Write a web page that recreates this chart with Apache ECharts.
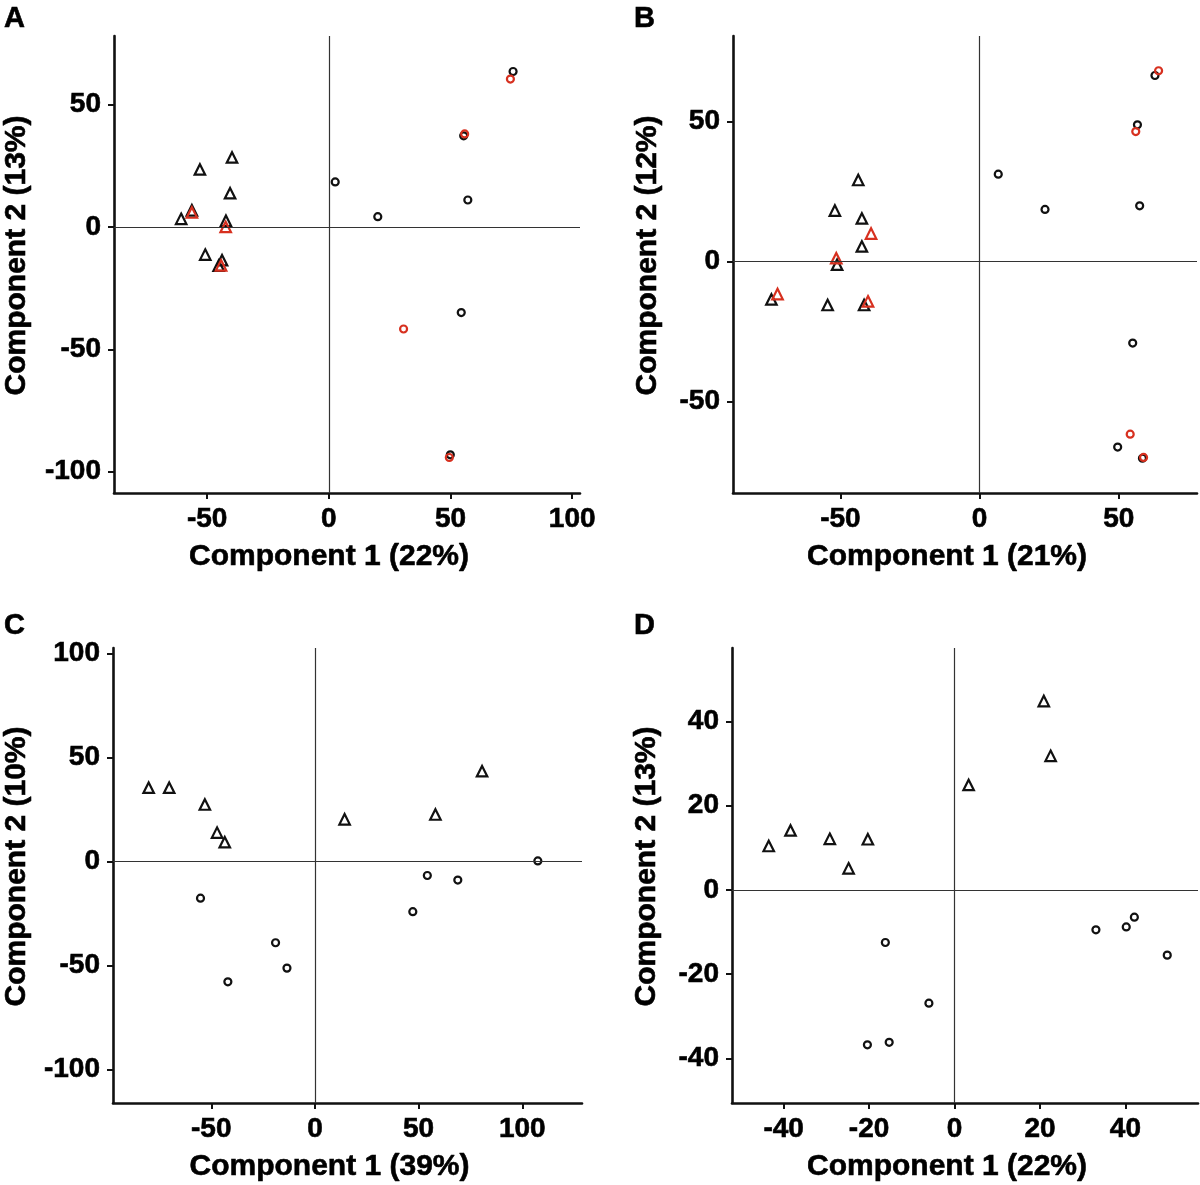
<!DOCTYPE html>
<html>
<head>
<meta charset="utf-8">
<script src="https://cdn.jsdelivr.net/npm/echarts@6/dist/echarts.min.js"></script>
<style>
html,body{margin:0;padding:0;background:#fff;}
#chart{width:1200px;height:1185px;}
</style>
</head>
<body>
<div id="chart"></div>
<script>
// ---------- Panel A ----------
const aBlackTri = [[-39.8,28.4],[-53.0,23.5],[-40.6,13.8],[-56.3,6.8],[-60.7,3.3],[-42.3,2.5],[-50.8,-11.3],[-43.9,-13.6],[-45.3,-15.8]];
const aRedTri = [[-56.3,5.9],[-42.4,0.0],[-44.3,-15.7]];
const aBlackCirc = [[75.7,63.5],[55.4,37.2],[2.6,18.4],[57.1,11.0],[20.1,4.2],[54.4,-35.0],[49.9,-93.1]];
const aRedCirc = [[74.6,60.4],[55.8,38.0],[30.7,-41.7],[49.5,-94.2]];
const aXTicks = [-50, 0, 50, 100];
const aYTicks = [-100, -50, 0, 50];
// ---------- Panel B ----------
const bBlackTri = [[-43.6,29.1],[-52.0,18.2],[-42.3,15.4],[-42.3,5.4],[-51.2,-1.1],[-74.8,-13.5],[-54.6,-15.5],[-41.5,-15.5]];
const bRedTri = [[-39.0,10.0],[-51.5,1.2],[-72.6,-11.6],[-40.1,-14.2]];
const bBlackCirc = [[63.0,66.4],[56.7,48.8],[6.7,31.2],[23.5,18.6],[57.5,19.9],[55.0,-29.1],[49.6,-66.2],[58.5,-70.2]];
const bRedCirc = [[64.3,68.1],[56.1,46.4],[54.1,-61.6],[58.9,-69.9]];
const bXTicks = [-50, 0, 50];
const bYTicks = [-50, 0, 50];
// ---------- Panel C ----------
const cTri = [[-80.2,35.5],[-70.3,35.5],[-53.1,27.4],[-47.2,13.9],[-43.5,9.3],[14.3,20.3],[58.1,22.6],[80.6,43.4]];
const cCirc = [[-55.2,-17.6],[-19.0,-39.0],[-13.5,-51.2],[-42.0,-57.8],[54.2,-6.7],[68.9,-8.9],[47.2,-24.1],[107.5,0.3]];
const cXTicks = [-50, 0, 50, 100];
const cYTicks = [-100, -50, 0, 50, 100];
// ---------- Panel D ----------
const dTri = [[-43.5,10.4],[-38.4,14.1],[-29.2,12.1],[-20.3,12.0],[-24.8,5.1],[3.3,24.9],[20.9,44.8],[22.5,31.8]];
const dCirc = [[-16.2,-12.5],[-6.0,-26.9],[-20.4,-36.8],[-15.3,-36.2],[33.1,-9.5],[40.2,-8.8],[42.1,-6.5],[49.8,-15.5]];
const dXTicks = [-40, -20, 0, 20, 40];
const dYTicks = [-40, -20, 0, 20, 40];

const panels = [
  {letter:'A', grid:{left:114, top:36, width:466, height:457}, x:[-88.3,103.2], y:[-108.7,78.0], xt:aXTicks, yt:aYTicks,
   xName:'Component 1 (22%)', yName:'Component 2 (13%)', yGap:82,
   series:[['triangle','#111',aBlackTri],['circle','#111',aBlackCirc],['triangle','#d7301f',aRedTri],['circle','#d7301f',aRedCirc]]},
  {letter:'B', grid:{left:733, top:36, width:464, height:457}, x:[-88.6,78.1], y:[-82.6,80.5], xt:bXTicks, yt:bYTicks,
   xName:'Component 1 (21%)', yName:'Component 2 (12%)', yGap:70,
   series:[['triangle','#111',bBlackTri],['circle','#111',bBlackCirc],['triangle','#d7301f',bRedTri],['circle','#d7301f',bRedCirc]]},
  {letter:'C', grid:{left:113, top:648, width:469, height:455}, x:[-97.4,128.8], y:[-116.0,102.6], xt:cXTicks, yt:cYTicks,
   xName:'Component 1 (39%)', yName:'Component 2 (10%)', yGap:81,
   series:[['triangle','#111',cTri],['circle','#111',cCirc]]},
  {letter:'D', grid:{left:732, top:648, width:466, height:455}, x:[-52.1,57.0], y:[-50.6,57.4], xt:dXTicks, yt:dYTicks,
   xName:'Component 1 (22%)', yName:'Component 2 (13%)', yGap:70,
   series:[['triangle','#111',dTri],['circle','#111',dCirc]]}
];

const FONT = '"Liberation Sans", Arial, Helvetica, sans-serif';
const letterPos = {A:[4,4], B:[634,4], C:[4,611], D:[634,611]};
const boldText = {fontFamily:FONT, fontWeight:'bold', color:'#000', textBorderColor:'#000', textBorderWidth:0.6};

const option = {
  animation:false,
  backgroundColor:'#ffffff',
  title: panels.map(p => ({text:p.letter, left:letterPos[p.letter][0], top:letterPos[p.letter][1], padding:0,
    textStyle:Object.assign({}, boldText, {fontSize:29})})),
  grid: panels.map(p => p.grid),
  xAxis: panels.map((p,i) => ({
    type:'value', gridIndex:i, min:p.x[0], max:p.x[1],
    name:p.xName, nameLocation:'middle', nameGap:49,
    nameTextStyle:Object.assign({}, boldText, {fontSize:30, padding:[0,36,0,0]}),
    axisLine:{show:true, onZero:false, lineStyle:{color:'#111', width:2.6}},
    axisTick:{show:true, length:6, customValues:p.xt, lineStyle:{color:'#111', width:2}},
    axisLabel:Object.assign({customValues:p.xt, margin:12}, boldText, {fontSize:28}),
    splitLine:{show:false}
  })),
  yAxis: panels.map((p,i) => ({
    type:'value', gridIndex:i, min:p.y[0], max:p.y[1],
    name:p.yName, nameLocation:'middle', nameGap:p.yGap,
    nameTextStyle:Object.assign({}, boldText, {fontSize:30, padding:[0,0,0,18]}),
    axisLine:{show:true, onZero:false, lineStyle:{color:'#111', width:2.6}},
    axisTick:{show:true, length:6, customValues:p.yt, lineStyle:{color:'#111', width:2}},
    axisLabel:Object.assign({customValues:p.yt, margin:13}, boldText, {fontSize:28}),
    splitLine:{show:false}
  })),
  series: []
};

panels.forEach((p,i) => {
  // zero reference lines
  option.series.push({
    type:'line', xAxisIndex:i, yAxisIndex:i, data:[], silent:true,
    markLine:{silent:true, symbol:'none', label:{show:false}, animation:false,
      lineStyle:{color:'#333', width:1.2, type:'solid'},
      data:[{xAxis:0},{yAxis:0}]}
  });
  p.series.forEach(s => {
    const isTri = s[0] === 'triangle';
    option.series.push({
      type:'scatter', xAxisIndex:i, yAxisIndex:i, data:s[2],
      symbol:s[0], symbolSize: isTri ? 10.5 : 7,
      itemStyle:{color:'rgba(255,255,255,0)', borderColor:s[1], borderWidth:2.2, opacity:1},
      emphasis:{disabled:true}, z:3
    });
  });
});

const chart = echarts.init(document.getElementById('chart'), null, {renderer:'canvas'});
chart.setOption(option);
</script>
</body>
</html>
